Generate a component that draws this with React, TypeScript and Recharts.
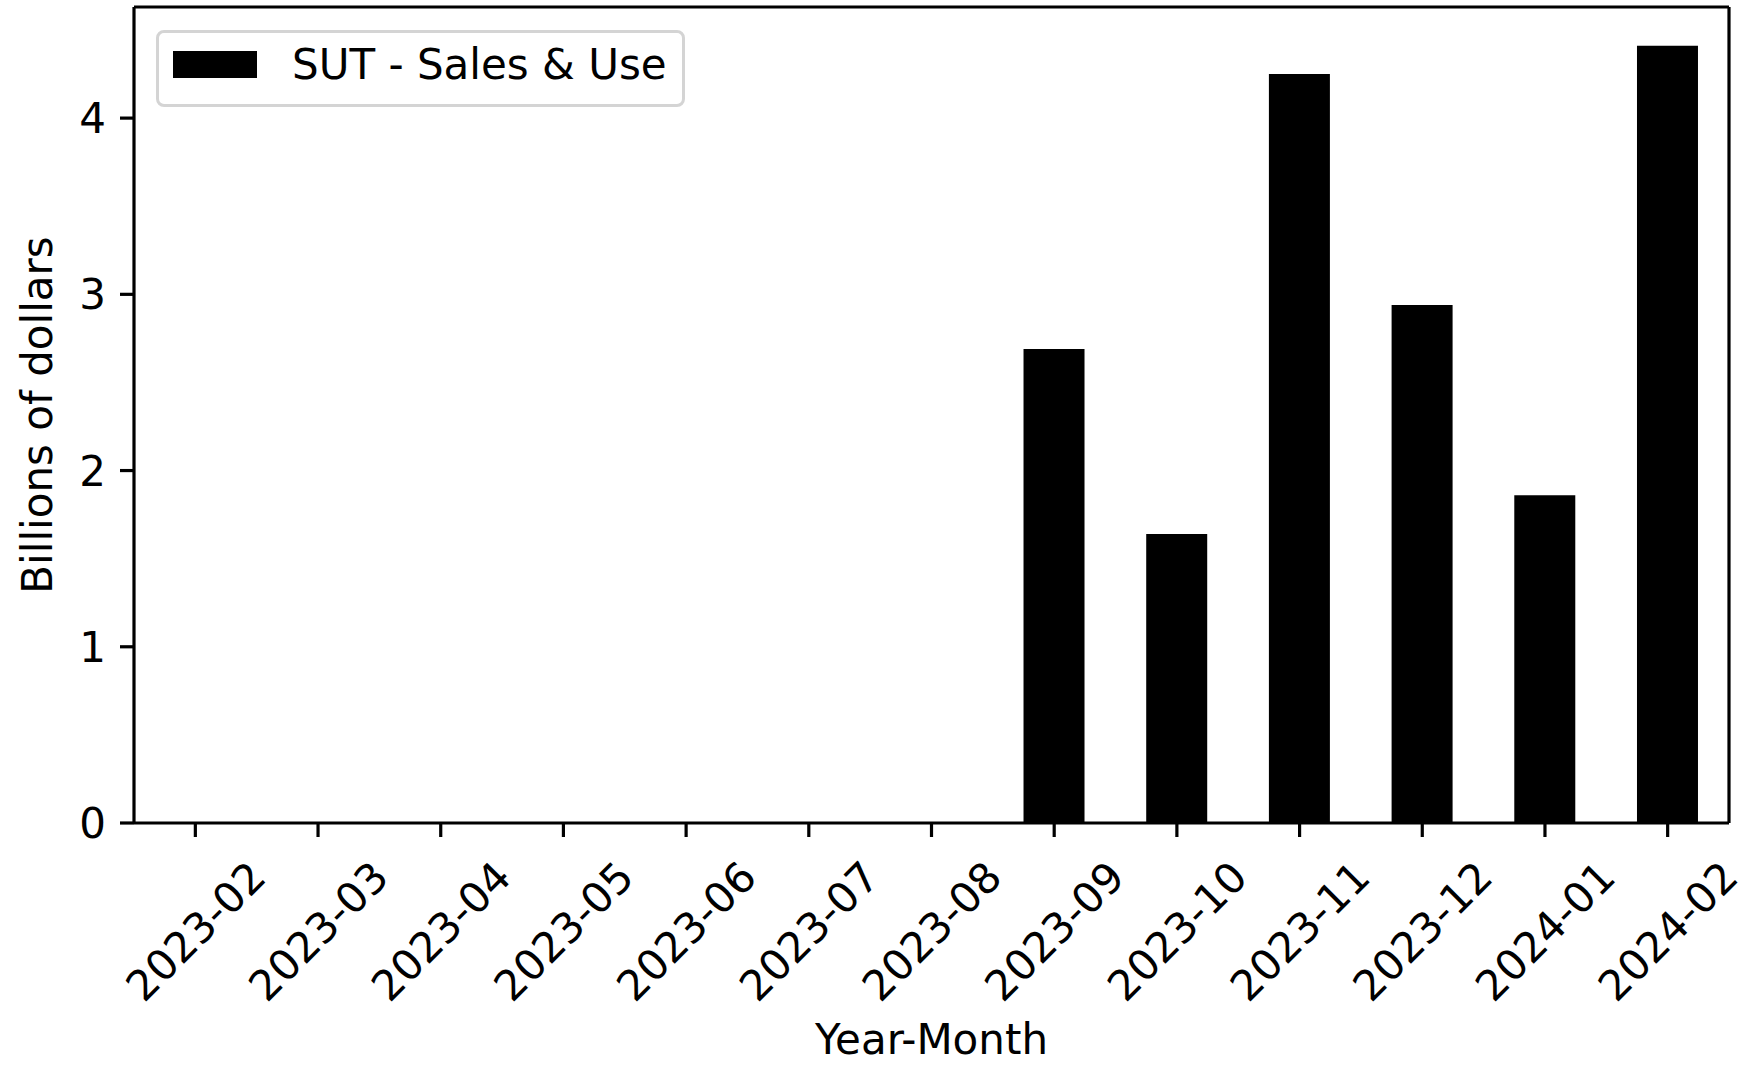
import React from "react";
import { BarChart, Bar, XAxis, YAxis, Legend } from "recharts";

const months = [
  "2023-02", "2023-03", "2023-04", "2023-05", "2023-06", "2023-07", "2023-08",
  "2023-09", "2023-10", "2023-11", "2023-12", "2024-01", "2024-02",
];
const sutValues = [0, 0, 0, 0, 0, 0, 0, 2.69, 1.64, 4.25, 2.94, 1.86, 4.41];
const yTicks = [0, 1, 2, 3, 4];
const seriesName = "SUT - Sales & Use";

const data = months.map((m, i) => ({ month: m, sut: sutValues[i] }));

const FONT = "DejaVu Sans";
const FS = 42;
const LW = 3.2;

const MonthTick = (props: any) => {
  const { x, y, payload } = props;
  return (
    <g transform={`translate(${x},${y + 94})`}>
      <text transform="rotate(-45)" textAnchor="middle" dy="0.36em" fontFamily={FONT} fontSize={FS} fill="#000">
        {payload.value}
      </text>
    </g>
  );
};

const ValueTick = (props: any) => {
  const { x, y, payload } = props;
  return (
    <text x={x} y={y} textAnchor="end" dy="0.36em" fontFamily={FONT} fontSize={FS} fill="#000">
      {payload.value}
    </text>
  );
};

const XLabel = (props: any) => {
  const vb = props.viewBox || {};
  return (
    <text x={vb.x + vb.width / 2} y={vb.y + 231} textAnchor="middle" fontFamily={FONT} fontSize={FS} fill="#000">
      Year-Month
    </text>
  );
};

const YLabel = (props: any) => {
  const vb = props.viewBox || {};
  const cy = vb.y + vb.height / 2;
  return (
    <text x={52} y={cy} transform={`rotate(-90, 52, ${cy})`} textAnchor="middle" fontFamily={FONT} fontSize={FS} fill="#000">
      Billions of dollars
    </text>
  );
};

const LegendBox = () => (
  <div
    style={{
      position: "relative",
      width: 529,
      height: 77,
      boxSizing: "border-box",
      border: "3px solid #d4d4d4",
      borderRadius: 8,
      background: "rgba(255,255,255,0.8)",
      fontFamily: FONT,
      fontSize: FS,
    }}
  >
    <div style={{ position: "absolute", left: 14, top: 18, width: 84, height: 27, background: "#000" }} />
    <div style={{ position: "absolute", left: 133, top: 7, lineHeight: "50px", color: "#000", whiteSpace: "nowrap" }}>
      {seriesName}
    </div>
  </div>
);

export default function App() {
  const axisStroke = { stroke: "#000", strokeWidth: LW };
  return (
    <div style={{ position: "absolute", left: 0, top: 0, background: "#fff" }}>
      <BarChart
        width={1747}
        height={1065}
        data={data}
        margin={{ top: 6, right: 17, bottom: 0, left: 0 }}
        barCategoryGap="25%"
      >
        <XAxis
          xAxisId="b"
          dataKey="month"
          interval={0}
          height={242}
          tickSize={14}
          tickMargin={0}
          tick={<MonthTick />}
          tickLine={axisStroke}
          axisLine={axisStroke}
          label={<XLabel />}
        />
        <XAxis xAxisId="t" dataKey="month" orientation="top" height={1} tick={false} tickLine={false} axisLine={axisStroke} />
        <YAxis
          yAxisId="l"
          width={134}
          ticks={yTicks}
          domain={[0, (max: number) => max * 1.05]}
          tickSize={14}
          tickMargin={14}
          tick={<ValueTick />}
          tickLine={axisStroke}
          axisLine={axisStroke}
          label={<YLabel />}
        />
        <YAxis
          yAxisId="r"
          orientation="right"
          width={1}
          domain={[0, (max: number) => max * 1.05]}
          tick={false}
          tickLine={false}
          axisLine={axisStroke}
        />
        <Legend
          layout="vertical"
          align="center"
          verticalAlign="middle"
          wrapperStyle={{ top: 30, left: 156, width: 529, height: 77 }}
          content={<LegendBox />}
        />
        <Bar xAxisId="b" yAxisId="l" dataKey="sut" name={seriesName} fill="#000" isAnimationActive={false} />
      </BarChart>
    </div>
  );
}
